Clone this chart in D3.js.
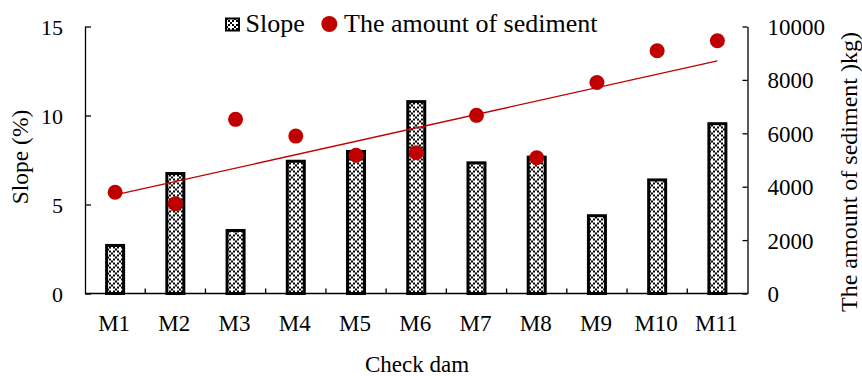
<!DOCTYPE html>
<html>
<head>
<meta charset="utf-8">
<script src="https://cdn.jsdelivr.net/npm/d3@7"></script>
<style>
  body { margin: 0; background: #fff; }
  .axis path, .axis line { stroke: #000; stroke-width: 1.3px; }
</style>
</head>
<body>
<div id="mainChart"></div>
<script>
// Data
const dams = ["M1", "M2", "M3", "M4", "M5", "M6", "M7", "M8", "M9", "M10", "M11"]
const slope = [2.7, 6.74, 3.54, 7.43, 7.98, 10.78, 7.34, 7.66, 4.37, 6.38, 9.54]
const sediment = [3790, 3365, 6522, 5895, 5180, 5270, 6673, 5083, 7902, 9090, 9466]
const slopeTicks = [0, 5, 10, 15]
const sedimentTicks = [0, 2000, 4000, 6000, 8000, 10000]

const margin = { top: 26.5, right: 114.5, bottom: 82.5, left: 85 }
const width = 862 - margin.left - margin.right
const height = 376 - margin.top - margin.bottom
const red = "#c00000"
const serif = "'Times New Roman', Times, 'Liberation Serif', Tinos, 'DejaVu Serif', 'Noto Serif', serif"

const svg = d3.select("#mainChart").append("svg")
   .attr("width", 862)
   .attr("height", 376)

// Checker pattern for the bars
const defs = svg.append("defs")
const pat = defs.append("pattern")
   .attr("id", "checker")
   .attr("patternUnits", "userSpaceOnUse")
   .attr("width", 8).attr("height", 8)
pat.append("rect").attr("width", 8).attr("height", 8).attr("fill", "#fff")
const cells = [[0, 0], [2, 2], [4, 4], [6, 6], [4, 0], [0, 4]]
cells.forEach(c => {
   pat.append("rect").attr("x", c[0]).attr("y", c[1]).attr("width", 2).attr("height", 2).attr("fill", "#000")
})

const g = svg.append("g")
   .attr("transform", "translate(" + margin.left + "," + margin.top + ")")

// Scales
const x = d3.scaleBand().domain(dams).range([0, width])
const yL = d3.scaleLinear().domain([0, 15]).range([height, 0])
const yR = d3.scaleLinear().domain([0, 10000]).range([height, 0])

// Bars
const barW = 17
g.selectAll("rect.bar").data(dams)
   .join("rect")
   .attr("class", "bar")
   .attr("x", d => x(d) + x.bandwidth() / 2 - barW / 2)
   .attr("y", (d, i) => yL(slope[i]))
   .attr("width", barW)
   .attr("height", (d, i) => height - yL(slope[i]))
   .attr("fill", "url(#checker)")
   .attr("stroke", "#000")
   .attr("stroke-width", 3)

// Linear trend of sediment
const n = dams.length
const xs = d3.range(1, n + 1)
const mx = d3.mean(xs), my = d3.mean(sediment)
const b = d3.sum(xs, (v, i) => (v - mx) * (sediment[i] - my)) / d3.sum(xs, v => (v - mx) * (v - mx))
const a = my - b * mx
const trend = [[dams[0], a + b * 1], [dams[n - 1], a + b * n]]

g.append("path")
   .datum(trend)
   .attr("d", d3.line()
      .x(d => x(d[0]) + x.bandwidth() / 2)
      .y(d => yR(d[1])))
   .attr("fill", "none")
   .attr("stroke", red)
   .attr("stroke-width", 1.3)

// Sediment dots
g.selectAll("circle.dot").data(dams)
   .join("circle")
   .attr("class", "dot")
   .attr("cx", d => x(d) + x.bandwidth() / 2)
   .attr("cy", (d, i) => yR(sediment[i]))
   .attr("r", 7.5)
   .attr("fill", red)

// Axes
const xAxis = g.append("g")
   .attr("class", "axis")
   .attr("transform", "translate(0," + height + ")")
xAxis.append("line").attr("x1", 0).attr("x2", width)
xAxis.selectAll("line.tick").data(dams.slice(1))
   .join("line")
   .attr("class", "tick")
   .attr("x1", d => x(d)).attr("x2", d => x(d))
   .attr("y1", 0).attr("y2", -5)
xAxis.selectAll("text").data(dams)
   .join("text")
   .attr("x", d => x(d) + x.bandwidth() / 2 - 1)
   .attr("y", 37)
   .attr("text-anchor", "middle")
   .style("font-size", "23px")
   .text(d => d)

const leftAxis = g.append("g")
   .attr("class", "axis")
   .call(d3.axisLeft(yL).tickValues(slopeTicks).tickSizeInner(-6).tickSizeOuter(0).tickPadding(22))
leftAxis.selectAll("text").style("font-size", "22px").attr("dy", "0.35em")

const rightAxis = g.append("g")
   .attr("class", "axis")
   .attr("transform", "translate(" + width + ",0)")
   .call(d3.axisRight(yR).tickValues(sedimentTicks).tickFormat(d3.format("d")).tickSizeInner(-5).tickSizeOuter(0).tickPadding(20))
rightAxis.selectAll("text").style("font-size", "23px").attr("dy", "0.35em")

// Axis titles
svg.append("text")
   .attr("transform", "translate(28,157) rotate(-90)")
   .attr("text-anchor", "middle")
   .style("font-size", "23.5px")
   .text("Slope (%)")

svg.append("text")
   .attr("transform", "translate(857,172) rotate(-90)")
   .attr("text-anchor", "middle")
   .style("font-size", "24px")
   .text("The amount of sediment )kg)")

svg.append("text")
   .attr("x", 417).attr("y", 371.5)
   .attr("text-anchor", "middle")
   .style("font-size", "23px")
   .text("Check dam")

// Legend
const legend = svg.append("g")
legend.append("rect")
   .attr("x", 226).attr("y", 18.5).attr("width", 13).attr("height", 12)
   .attr("fill", "url(#checker)").attr("stroke", "#000").attr("stroke-width", 2)
legend.append("text").attr("x", 245.5).attr("y", 32.3).style("font-size", "26px").text("Slope")
legend.append("circle").attr("cx", 329.3).attr("cy", 24).attr("r", 8).attr("fill", red)
legend.append("text").attr("x", 344).attr("y", 32.3).style("font-size", "26px").text("The amount of sediment")

// Serif face on every text
svg.selectAll("text").style("font-family", serif).style("fill", "#000")
</script>
</body>
</html>
